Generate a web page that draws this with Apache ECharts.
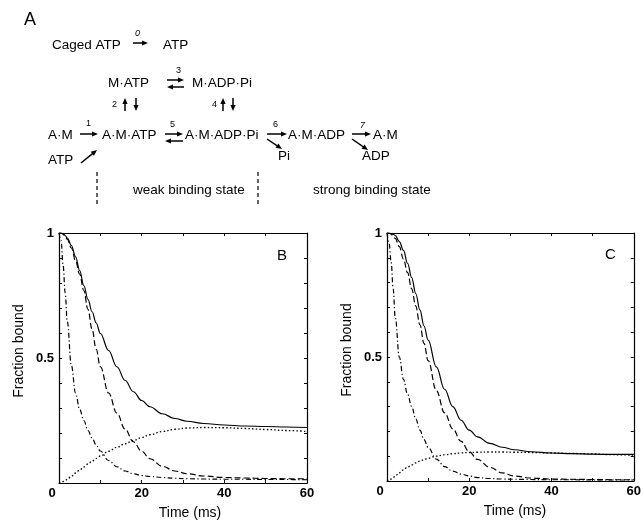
<!DOCTYPE html>
<html>
<head>
<meta charset="utf-8">
<script src="https://cdn.jsdelivr.net/npm/echarts@6/dist/echarts.min.js"></script>
<style>
html, body { margin: 0; padding: 0; background: #fff; }
#chart { width: 644px; height: 523px; }
</style>
</head>
<body>
<div id="chart"></div>
<script>
// time points (ms) shared by all curves
var time = [0, 0.5, 1, 1.5, 2, 3, 4, 5, 6, 7, 8, 9, 10, 12, 14, 16, 18, 20, 22, 25, 28, 31, 35, 40, 45, 50, 55, 60];

// panel B
var bSolid   = [1.0, 1.0, 0.997, 0.99, 0.98, 0.95, 0.905, 0.85, 0.79, 0.735, 0.685, 0.64, 0.598, 0.53, 0.465, 0.41, 0.365, 0.33, 0.305, 0.277, 0.258, 0.247, 0.238, 0.232, 0.228, 0.226, 0.224, 0.222];
var bDashed  = [1.0, 1.0, 0.995, 0.985, 0.975, 0.94, 0.89, 0.835, 0.77, 0.695, 0.615, 0.535, 0.465, 0.36, 0.28, 0.215, 0.165, 0.127, 0.097, 0.067, 0.048, 0.037, 0.028, 0.022, 0.02, 0.018, 0.017, 0.017];
var bDashDot = [1.0, 0.97, 0.87, 0.76, 0.645, 0.47, 0.36, 0.295, 0.25, 0.21, 0.18, 0.152, 0.128, 0.09, 0.065, 0.048, 0.037, 0.03, 0.026, 0.022, 0.019, 0.017, 0.016, 0.015, 0.015, 0.014, 0.014, 0.013];
var bDotted  = [0, 0.002, 0.006, 0.01, 0.015, 0.027, 0.04, 0.052, 0.064, 0.076, 0.087, 0.098, 0.108, 0.127, 0.143, 0.157, 0.17, 0.182, 0.193, 0.206, 0.215, 0.22, 0.222, 0.221, 0.218, 0.214, 0.21, 0.206];

// panel C
var cSolid   = [1.0, 1.0, 0.998, 0.995, 0.99, 0.965, 0.93, 0.878, 0.82, 0.755, 0.69, 0.625, 0.568, 0.46, 0.37, 0.3, 0.245, 0.205, 0.178, 0.152, 0.136, 0.126, 0.118, 0.113, 0.11, 0.108, 0.107, 0.107];
var cDashed  = [1.0, 1.0, 0.995, 0.988, 0.978, 0.945, 0.895, 0.84, 0.775, 0.705, 0.63, 0.555, 0.485, 0.365, 0.275, 0.21, 0.16, 0.118, 0.087, 0.055, 0.033, 0.02, 0.012, 0.008, 0.007, 0.006, 0.005, 0.005];
var cDashDot = [1.0, 0.96, 0.885, 0.775, 0.66, 0.5, 0.41, 0.35, 0.3, 0.25, 0.205, 0.167, 0.135, 0.088, 0.058, 0.04, 0.028, 0.02, 0.014, 0.01, 0.008, 0.007, 0.006, 0.005, 0.005, 0.004, 0.004, 0.004];
var cDotted  = [0, 0.003, 0.008, 0.014, 0.02, 0.033, 0.045, 0.056, 0.065, 0.073, 0.08, 0.086, 0.092, 0.1, 0.106, 0.11, 0.113, 0.115, 0.116, 0.117, 0.117, 0.116, 0.115, 0.113, 0.111, 0.109, 0.106, 0.104];

var xLabels = [0, 20, 40, 60];
var yLabels = [0.5, 1];

var font = "'Liberation Sans', Arial, Helvetica, sans-serif";
var chart = echarts.init(document.getElementById('chart'));

function pairs(ys) {
    return time.map(function (t, i) { return [t, ys[i]]; });
}

var axisLine = { onZero: false, lineStyle: { color: '#000', width: 1.2 } };
var axisTick = { inside: true, length: 3, lineStyle: { color: '#000', width: 1 } };

function xAxes(grid, shift) {
    return [{
        gridIndex: grid, type: 'value', min: 0, max: 60, interval: 10, position: 'bottom',
        axisLine: axisLine, axisTick: axisTick, splitLine: { show: false },
        axisLabel: {
            color: '#000', fontFamily: font, fontSize: 13, fontWeight: 'bold', margin: 4,
            formatter: function (v) {
                if (v === 0) return '{z|0}';
                return xLabels.indexOf(v) >= 0 ? String(v) : '';
            },
            rich: { z: { fontFamily: font, fontSize: 13, fontWeight: 'bold', color: '#000', padding: [0, 14, 0, 0] } }
        },
        name: 'Time (ms)', nameLocation: 'middle', nameGap: 23,
        nameTextStyle: { color: '#000', fontFamily: font, fontSize: 14, padding: [0, 0, 0, shift] }
    }, {
        gridIndex: grid, type: 'value', min: 0, max: 60, interval: 10, position: 'top',
        axisLine: axisLine, axisTick: axisTick, splitLine: { show: false }, axisLabel: { show: false }
    }];
}

function yAxes(grid) {
    return [{
        gridIndex: grid, type: 'value', min: 0, max: 1, interval: 0.1, position: 'left',
        axisLine: axisLine, axisTick: axisTick, splitLine: { show: false },
        axisLabel: {
            color: '#000', fontFamily: font, fontSize: 13, fontWeight: 'bold', margin: 5,
            formatter: function (v) {
                for (var i = 0; i < yLabels.length; i++) {
                    if (Math.abs(v - yLabels[i]) < 1e-6) return String(yLabels[i]);
                }
                return '';
            }
        },
        name: 'Fraction bound', nameLocation: 'middle', nameGap: 33, nameRotate: 90,
        nameTextStyle: { color: '#000', fontFamily: font, fontSize: 14, padding: [0, 0, 0, 14] }
    }, {
        gridIndex: grid, type: 'value', min: 0, max: 1, interval: 0.1, position: 'right',
        axisLine: axisLine, axisTick: axisTick, splitLine: { show: false }, axisLabel: { show: false }
    }];
}

function curve(xi, ys, dash, w) {
    return {
        type: 'line', xAxisIndex: xi, yAxisIndex: xi, data: pairs(ys),
        showSymbol: false, smooth: 0.4, smoothMonotone: 'x',
        lineStyle: { color: '#000', width: w || 1.2, type: dash }
    };
}

var longDash = [6, 3];
var dashDot = [5, 2.5, 1.2, 2.5];
var dots = [1.5, 2.2];

// scheme of panel A
var graphic = [];
function txt(s, x, y, size, style) {
    graphic.push({
        type: 'text', x: x, y: y, silent: true,
        style: {
            text: s, fill: '#000', fontFamily: font, fontSize: size || 13.5,
            fontStyle: style || 'normal', textVerticalAlign: 'middle', verticalAlign: 'middle'
        }
    });
}
function arrow(x1, y1, x2, y2) {
    var a = Math.atan2(y2 - y1, x2 - x1), c = Math.cos(a), s = Math.sin(a);
    var hl = 6, hw = 2.6;
    graphic.push({
        type: 'line', silent: true,
        shape: { x1: x1, y1: y1, x2: x2 - c * 3, y2: y2 - s * 3 },
        style: { stroke: '#000', lineWidth: 1.5 }
    });
    graphic.push({
        type: 'polygon', silent: true,
        shape: { points: [[x2, y2], [x2 - hl * c - hw * s, y2 - hl * s + hw * c], [x2 - hl * c + hw * s, y2 - hl * s - hw * c]] },
        style: { fill: '#000' }
    });
}
function vdash(x, y1, y2) {
    graphic.push({
        type: 'line', silent: true, shape: { x1: x, y1: y1, x2: x, y2: y2 },
        style: { stroke: '#000', lineWidth: 1.2, lineDash: [4, 3] }
    });
}

txt('A', 24, 20, 18);
txt('Caged ATP', 52, 45);
txt('0', 135, 33, 9, 'italic');
arrow(133, 43, 148, 43);
txt('ATP', 163, 45);

txt('M·ATP', 108, 83);
txt('3', 176, 71, 9);
arrow(167, 80, 184, 80);
arrow(184, 87, 167, 87);
txt('M·ADP·Pi', 192, 83);

txt('2', 112, 105, 9);
arrow(125, 111, 125, 98);
arrow(136, 98, 136, 111);
txt('4', 212, 105, 9);
arrow(223, 111, 223, 98);
arrow(233, 98, 233, 111);

txt('A·M', 48, 135);
txt('1', 86, 124, 9);
arrow(80, 134, 98, 134);
txt('ATP', 48, 160);
arrow(81, 163, 97, 150);
txt('A·M·ATP', 102, 135);
txt('5', 170, 125, 9);
arrow(165, 134, 183, 134);
arrow(183, 141, 165, 141);
txt('A·M·ADP·Pi', 185, 135);
txt('6', 273, 125, 9);
arrow(267, 134, 287, 134);
arrow(267, 139, 282, 149);
txt('Pi', 278, 156);
txt('A·M·ADP', 288, 135);
txt('7', 360, 125, 9, 'italic');
arrow(352, 134, 371, 134);
arrow(352, 139, 368, 150);
txt('ADP', 362, 156);
txt('A·M', 373, 135);

vdash(97, 172, 206);
vdash(258, 172, 206);
txt('weak binding state', 133, 190);
txt('strong binding state', 313, 190);

txt('B', 277, 256, 15);
txt('C', 605, 255, 15);

var option = {
    animation: false,
    backgroundColor: '#fff',
    grid: [
        { left: 59, top: 233, width: 248, height: 250 },
        { left: 387, top: 233, width: 249, height: 248 }
    ],
    xAxis: xAxes(0, 14).concat(xAxes(1, 9)),
    yAxis: yAxes(0).concat(yAxes(1)),
    series: [
        curve(0, bSolid, 'solid'),
        curve(0, bDashed, longDash),
        curve(0, bDashDot, dashDot),
        curve(0, bDotted, dots, 1.3),
        curve(2, cSolid, 'solid'),
        curve(2, cDashed, longDash),
        curve(2, cDashDot, dashDot),
        curve(2, cDotted, dots, 1.3)
    ],
    graphic: graphic
};

chart.setOption(option);
</script>
</body>
</html>
